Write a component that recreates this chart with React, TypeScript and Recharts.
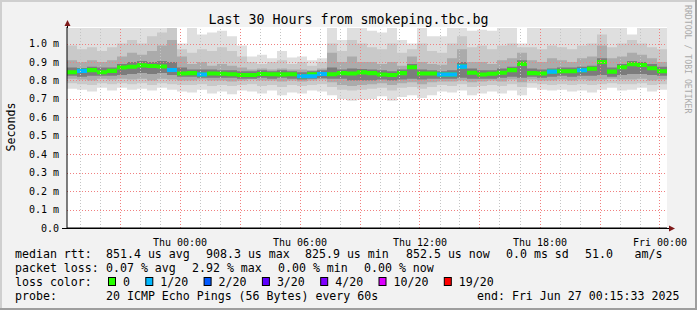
import React from "react";
import { Area, ComposedChart, ReferenceLine, XAxis, YAxis } from "recharts";

// time axis: hours relative to Thu 00:00, one sample every 30 min
const firstHour = -5.65;
const stepHours = 0.5;

// median rtt (ms) per step
const median = [
  0.845, 0.852, 0.856, 0.845, 0.852, 0.87, 0.874, 0.882, 0.878, 0.876,
  0.857, 0.838, 0.84, 0.832, 0.838, 0.836, 0.834, 0.83, 0.83, 0.835,
  0.834, 0.833, 0.834, 0.823, 0.834, 0.835, 0.834, 0.84, 0.838, 0.844,
  0.84, 0.832, 0.83, 0.84, 0.872, 0.838, 0.838, 0.832, 0.832, 0.875,
  0.842, 0.832, 0.836, 0.842, 0.856, 0.89, 0.84, 0.838, 0.848, 0.85,
  0.85, 0.855, 0.864, 0.9, 0.848, 0.872, 0.888, 0.884, 0.866, 0.85,
];

// lost pings out of 20 per step
const lost = [
  0, 1, 0, 0, 0, 0, 0, 0, 0, 0,
  1, 0, 0, 1, 0, 0, 0, 0, 0, 0,
  0, 0, 0, 1, 0, 1, 0, 0, 0, 0,
  0, 0, 0, 0, 0, 0, 0, 1, 0, 1,
  0, 0, 0, 0, 0, 0, 0, 0, 1, 0,
  0, 1, 0, 0, 0, 0, 0, 0, 0, 0,
];

// smoke: outer spread (lightest)
const smokeHiA = [
  1.085, 1.085, 1.085, 1.085, 1.085, 1.085, 1.085, 1.085, 1.085, 1.085,
  1.085, 1.0, 1.085, 1.05, 1.06, 1.07, 1.04, 0.99, 0.93, 0.94,
  0.92, 0.96, 0.925, 0.93, 0.91, 0.92, 1.085, 1.02, 1.085, 1.085,
  1.07, 1.06, 1.085, 1.02, 1.0, 1.085, 1.04, 1.04, 1.085, 1.085,
  1.07, 1.075, 1.07, 1.085, 1.085, 1.0, 1.085, 1.085, 1.085, 1.085,
  1.085, 1.085, 1.085, 1.085, 1.085, 1.085, 1.05, 1.085, 1.085, 1.085,
];
const smokeLoA = [
  0.755, 0.75, 0.74, 0.76, 0.745, 0.76, 0.75, 0.755, 0.745, 0.76,
  0.75, 0.74, 0.735, 0.75, 0.73, 0.74, 0.725, 0.745, 0.74, 0.73,
  0.745, 0.72, 0.735, 0.73, 0.745, 0.74, 0.72, 0.7, 0.69, 0.695,
  0.7, 0.715, 0.69, 0.71, 0.72, 0.705, 0.72, 0.74, 0.735, 0.745,
  0.72, 0.73, 0.74, 0.73, 0.745, 0.72, 0.76, 0.75, 0.745, 0.75,
  0.74, 0.745, 0.735, 0.75, 0.76, 0.745, 0.75, 0.76, 0.74, 0.75,
];
const smokeHiB = [
  0.99, 0.97, 0.98, 0.96, 0.98, 1.0, 1.02, 1.0, 1.04, 1.06,
  1.085, 0.97, 0.95, 0.97, 0.96, 0.98, 0.96, 0.93, 0.9, 0.89,
  0.9, 0.91, 0.89, 0.9, 0.88, 0.9, 1.0, 0.96, 1.02, 1.0,
  0.98, 0.97, 1.0, 0.95, 0.97, 1.0, 0.96, 0.95, 1.0, 1.04,
  0.98, 0.99, 0.97, 0.99, 1.0, 0.98, 0.98, 0.97, 0.99, 0.98,
  0.97, 0.99, 1.0, 1.05, 0.98, 1.0, 1.02, 1.0, 0.98, 0.97,
];
const smokeLoB = [
  0.785, 0.78, 0.775, 0.785, 0.78, 0.785, 0.78, 0.785, 0.775, 0.785,
  0.78, 0.775, 0.775, 0.78, 0.77, 0.775, 0.77, 0.775, 0.78, 0.77,
  0.775, 0.765, 0.775, 0.77, 0.775, 0.78, 0.765, 0.75, 0.745, 0.75,
  0.755, 0.76, 0.745, 0.76, 0.765, 0.755, 0.765, 0.775, 0.77, 0.78,
  0.765, 0.77, 0.775, 0.77, 0.78, 0.765, 0.785, 0.78, 0.775, 0.78,
  0.775, 0.78, 0.775, 0.78, 0.785, 0.78, 0.78, 0.785, 0.775, 0.78,
];
const smokeHiC = [
  0.91, 0.9, 0.91, 0.9, 0.91, 0.93, 0.95, 0.94, 0.96, 0.99,
  1.02, 0.93, 0.89, 0.9, 0.88, 0.89, 0.88, 0.87, 0.86, 0.865,
  0.86, 0.865, 0.86, 0.86, 0.855, 0.865, 0.95, 0.9, 0.93, 0.9,
  0.9, 0.89, 0.9, 0.88, 0.93, 0.9, 0.89, 0.885, 0.92, 0.97,
  0.9, 0.9, 0.89, 0.91, 0.92, 0.95, 0.91, 0.9, 0.92, 0.91,
  0.9, 0.92, 0.93, 0.99, 0.92, 0.93, 0.95, 0.94, 0.92, 0.9,
];
const smokeLoC = [
  0.81, 0.805, 0.8, 0.81, 0.805, 0.81, 0.805, 0.81, 0.8, 0.81,
  0.805, 0.8, 0.8, 0.805, 0.8, 0.8, 0.795, 0.8, 0.805, 0.8,
  0.8, 0.795, 0.8, 0.795, 0.8, 0.805, 0.79, 0.775, 0.77, 0.775,
  0.78, 0.785, 0.775, 0.785, 0.79, 0.78, 0.79, 0.795, 0.795, 0.8,
  0.79, 0.795, 0.8, 0.795, 0.805, 0.79, 0.805, 0.8, 0.8, 0.805,
  0.8, 0.805, 0.8, 0.805, 0.81, 0.805, 0.805, 0.81, 0.8, 0.805,
];
const smokeHiD = [
  0.87, 0.868, 0.875, 0.87, 0.87, 0.89, 0.9, 0.905, 0.9, 0.905,
  0.9, 0.87, 0.86, 0.86, 0.86, 0.855, 0.855, 0.85, 0.85, 0.855,
  0.85, 0.855, 0.85, 0.845, 0.85, 0.855, 0.87, 0.86, 0.865, 0.862,
  0.86, 0.855, 0.85, 0.86, 0.89, 0.86, 0.855, 0.85, 0.855, 0.9,
  0.865, 0.855, 0.855, 0.865, 0.875, 0.91, 0.865, 0.86, 0.865, 0.87,
  0.87, 0.875, 0.88, 0.92, 0.87, 0.89, 0.905, 0.9, 0.89, 0.875,
];
const smokeLoD = [
  0.825, 0.82, 0.825, 0.825, 0.825, 0.83, 0.835, 0.84, 0.835, 0.84,
  0.83, 0.82, 0.82, 0.815, 0.815, 0.815, 0.815, 0.81, 0.81, 0.815,
  0.81, 0.815, 0.81, 0.805, 0.81, 0.812, 0.81, 0.81, 0.8, 0.8,
  0.8, 0.805, 0.8, 0.805, 0.81, 0.805, 0.81, 0.81, 0.81, 0.815,
  0.81, 0.81, 0.81, 0.815, 0.82, 0.815, 0.82, 0.815, 0.82, 0.825,
  0.82, 0.825, 0.825, 0.83, 0.82, 0.83, 0.835, 0.835, 0.83, 0.825,
];

const xTicks = [0, 6, 12, 18, 24];
const xTickLabels = ["Thu 00:00", "Thu 06:00", "Thu 12:00", "Thu 18:00", "Fri 00:00"];
const yTicks = [0, 0.1, 0.2, 0.3, 0.4, 0.5, 0.6, 0.7, 0.8, 0.9, 1.0];
const yTickLabels = ["0.0", "0.1 m", "0.2 m", "0.3 m", "0.4 m", "0.5 m", "0.6 m", "0.7 m", "0.8 m", "0.9 m", "1.0 m"];
const gridHours = [-5, -4, -3, -2, -1, 0, 1, 2, 3, 4, 5, 6, 7, 8, 9, 10, 11, 12, 13, 14, 15, 16, 17, 18, 19, 20, 21, 22, 23, 24];

const lossLabels = ["0", "1/20", "2/20", "3/20", "4/20", "10/20", "19/20"];
const lossColors = ["#26ff00", "#00b8ff", "#0059ff", "#5e00ff", "#7e00ff", "#dd00ff", "#ff0000"];

const statsRtt = ["851.4 us avg", "908.3 us max", "825.9 us min", "852.5 us now", "0.0 ms sd", "51.0", "am/s"];
const statsLoss = ["0.07 % avg", "2.92 % max", "0.00 % min", "0.00 % now"];
const probeText = "20 ICMP Echo Pings (56 Bytes) every 60s";
const endText = "end: Fri Jun 27 00:15:33 2025";

const MONO = "'DejaVu Sans Mono', monospace";
const HALF = 0.011; // half height of the median bar
const RED = "#f08080";
const GRAY = "#c4c4c4";

const band = (m: number) => [m - HALF, m + HALF];

const rows: any[] = median.map((m, i) => ({
  t: firstHour + i * stepHours,
  a: [smokeLoA[i], smokeHiA[i]],
  b: [smokeLoB[i], smokeHiB[i]],
  c: [smokeLoC[i], smokeHiC[i]],
  d: [smokeLoD[i], smokeHiD[i]],
  med: band(m),
  loss1: lost[i] > 0 ? band(m) : i > 0 && lost[i - 1] > 0 ? band(median[i - 1]) : null,
}));
{
  const last = rows[rows.length - 1];
  const n = median.length;
  rows.push({ ...last, t: firstHour + n * stepHours, loss1: lost[n - 1] > 0 ? last.loss1 : null });
}

const rttX = [107, 207, 306, 407, 507, 586, 635.5];
const lossX = [107, 193, 279, 365];

// dotted grid line drawn through the reference line's own coordinates
const dotted = (color: string) => (p: any) => {
  const vertical = Math.abs(p.x1 - p.x2) < 0.01;
  const x1 = vertical ? Math.floor(p.x1) + 0.5 : p.x1;
  const x2 = vertical ? Math.floor(p.x2) + 0.5 : p.x2;
  const y1 = vertical ? p.y1 : Math.round(p.y1) + 0.5;
  const y2 = vertical ? p.y2 : Math.round(p.y2) + 0.5;
  return (
    <path
      d={`M${x1},${y1}L${x2},${y2}`}
      style={{ stroke: color, strokeWidth: 1, strokeDasharray: "1 2", fill: "none" }}
    />
  );
};

const App = () => {
  // loss colour legend layout
  let cx = 108;
  const legendItems = lossLabels.map((lbl, i) => {
    const item = { x: cx, label: lbl, color: lossColors[i] };
    cx += 15 + lbl.length * 7 + 15.3;
    return item;
  });

  return (
    <div style={{ position: "absolute", left: 0, top: 0, width: 697, height: 310, background: "#f2f2f2" }}>
      <div style={{ position: "absolute", left: 67, top: 27, width: 600, height: 201, background: "#fff" }} />
      <div style={{ position: "absolute", left: 0, top: 0 }}>
        <ComposedChart width={697} height={310} data={rows} margin={{ top: 27, right: 30, bottom: 62, left: 0 }}>
          <XAxis
            dataKey="t"
            type="number"
            domain={[firstHour, firstHour + median.length * stepHours]}
            ticks={xTicks}
            tickFormatter={(v, i) => xTickLabels[i]}
            height={20}
            tickLine={false}
            tickMargin={5}
            axisLine={{ stroke: "#000" }}
            tick={{ fontSize: 10, fontFamily: MONO, fill: "#000" }}
            allowDataOverflow
          />
          <YAxis
            type="number"
            domain={[0, 1.09]}
            ticks={yTicks}
            tickFormatter={(v, i) => yTickLabels[i]}
            width={67}
            tickLine={false}
            tickSize={4}
            tickMargin={4}
            axisLine={{ stroke: "#000" }}
            tick={{ fontSize: 10, fontFamily: MONO, fill: "#000" }}
            allowDataOverflow
          />
          <Area dataKey="a" type="stepAfter" stroke="none" fill="#dfdfdf" fillOpacity={1} isAnimationActive={false} dot={false} activeDot={false} />
          <Area dataKey="b" type="stepAfter" stroke="none" fill="#c9c9c9" fillOpacity={1} isAnimationActive={false} dot={false} activeDot={false} />
          <Area dataKey="c" type="stepAfter" stroke="none" fill="#ababab" fillOpacity={1} isAnimationActive={false} dot={false} activeDot={false} />
          <Area dataKey="d" type="stepAfter" stroke="none" fill="#7c7c7c" fillOpacity={1} isAnimationActive={false} dot={false} activeDot={false} />
          {gridHours.map((h) => (
            <ReferenceLine key={"v" + h} x={h} shape={dotted(h % 3 === 0 ? RED : GRAY)} />
          ))}
          {yTicks.slice(1).map((v) => (
            <ReferenceLine key={"h" + v} y={v} shape={dotted(RED)} />
          ))}
          <Area dataKey="med" type="stepAfter" stroke="none" fill="#26ff00" fillOpacity={1} isAnimationActive={false} dot={false} activeDot={false} />
          <Area dataKey="loss1" type="stepAfter" stroke="none" fill="#00b8ff" fillOpacity={1} isAnimationActive={false} dot={false} activeDot={false} connectNulls={false} />
        </ComposedChart>
      </div>
      <svg width={697} height={310} style={{ position: "absolute", left: 0, top: 0, pointerEvents: "none" }}>
        <line x1={0} y1={1} x2={697} y2={1} stroke="#cfcfcf" strokeWidth={2} />
        <line x1={1} y1={0} x2={1} y2={310} stroke="#cfcfcf" strokeWidth={2} />
        <line x1={0} y1={309} x2={697} y2={309} stroke="#9e9e9e" strokeWidth={2} />
        <line x1={696} y1={0} x2={696} y2={310} stroke="#9e9e9e" strokeWidth={2} />

        <line x1={67.5} y1={22} x2={67.5} y2={28} stroke="#000" />
        <line x1={62} y1={228.5} x2={670} y2={228.5} stroke="#000" />
        <polygon points="67.5,20 64.5,26 70.5,26" fill="#7f1a1a" />
        <polygon points="675,228.5 669,225.5 669,231.5" fill="#7f1a1a" />

        <text x={348.5} y={24} textAnchor="middle" fontFamily={MONO} fontSize={13.3} fill="#000">
          Last 30 Hours from smokeping.tbc.bg
        </text>
        <text transform="translate(15,127) rotate(-90)" textAnchor="middle" fontFamily={MONO} fontSize={11.6} fill="#000">
          Seconds
        </text>
        <text transform="translate(685,5) rotate(90)" fontFamily={MONO} fontSize={8.2} fill="#aaaaaa">
          RRDTOOL / TOBI OETIKER
        </text>

        <g fontFamily={MONO} fontSize={11.6} fill="#000">
          <text x={15} y={258}>median rtt:</text>
          {statsRtt.map((s, i) => (
            <text key={s} x={rttX[i] - 1} y={258}>{s}</text>
          ))}
          <text x={15} y={272}>packet loss:</text>
          {statsLoss.map((s, i) => (
            <text key={s + i} x={lossX[i] - 1} y={272}>{s}</text>
          ))}
          <text x={15} y={286}>loss color:</text>
          {legendItems.map((it) => (
            <g key={it.label}>
              <rect x={it.x + 0.5} y={277.5} width={7} height={8} fill={it.color} stroke="#000" />
              <text x={it.x + 15} y={286}>{it.label}</text>
            </g>
          ))}
          <text x={15} y={300}>probe:</text>
          <text x={106} y={300}>{probeText}</text>
          <text x={477} y={300}>{endText}</text>
        </g>
      </svg>
    </div>
  );
};

export default App;
